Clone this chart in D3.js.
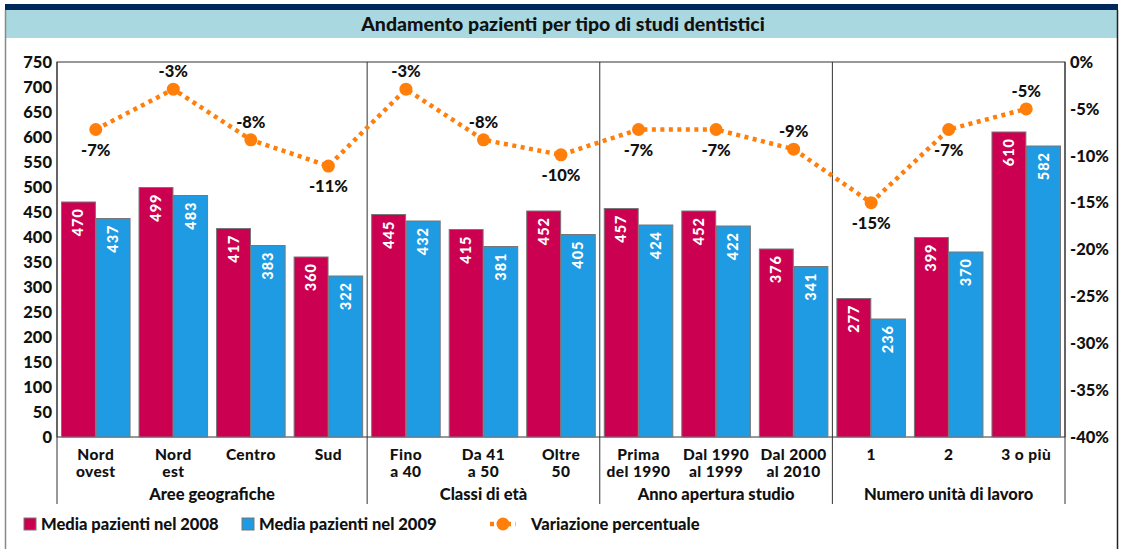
<!DOCTYPE html>
<html>
<head>
<meta charset="utf-8">
<script src="https://cdn.jsdelivr.net/npm/d3@7/dist/d3.min.js"></script>
<style>
  body { margin: 0; background: #fff; }
  text { font-family: Lato, "Open Sans", sans-serif; font-weight: 900; }
</style>
</head>
<body>
<svg width="1123" height="549"></svg>
<script>
const categories = [
  ["Nord", "ovest"], ["Nord", "est"], ["Centro"], ["Sud"],
  ["Fino", "a 40"], ["Da 41", "a 50"], ["Oltre", "50"],
  ["Prima", "del 1990"], ["Dal 1990", "al 1999"], ["Dal 2000", "al 2010"],
  ["1"], ["2"], ["3 o più"]
];
const groupNames = ["Aree geografiche", "Classi di età", "Anno apertura studio", "Numero unità di lavoro"];
const groupSizes = [4, 3, 3, 3];
const pazienti2008 = [470, 499, 417, 360, 445, 415, 452, 457, 452, 376, 277, 399, 610];
const pazienti2009 = [437, 483, 383, 322, 432, 381, 405, 424, 422, 341, 236, 370, 582];
const variazione = [-7.2, -2.9, -8.3, -11.1, -2.9, -8.3, -9.9, -7.2, -7.2, -9.3, -15, -7.2, -5];
const labelSide = ["b", "a", "a", "b", "a", "a", "b", "b", "b", "a", "b", "b", "a"];
const leftTicks = d3.range(0, 751, 50);
const rightTicks = d3.range(0, -41, -5);
const seriesNames = ["Media pazienti nel 2008", "Media pazienti nel 2009", "Variazione percentuale"];

const red = "#cc0050", blue = "#1e9be3", orange = "#ff7f0a";
const fs = "16.5px";

let svg = d3.select("svg");

// frame + title band
svg.append("rect").attr("x", 5).attr("y", 10).attr("width", 1113).attr("height", 28).attr("fill", "#a9d8e0");
svg.append("rect").attr("x", 5).attr("y", 4).attr("width", 1113).attr("height", 6).attr("fill", "#00295b");
svg.append("line").attr("x1", 5.5).attr("x2", 5.5).attr("y1", 10).attr("y2", 549).attr("stroke", "#888").attr("stroke-width", 1.5);
svg.append("line").attr("x1", 1117.5).attr("x2", 1117.5).attr("y1", 10).attr("y2", 549).attr("stroke", "#222").attr("stroke-width", 1.5);
svg.append("text")
  .attr("x", 563).attr("y", 31)
  .attr("text-anchor", "middle")
  .attr("font-size", "19.5px")
  .attr("fill", "#111")
  .text("Andamento pazienti per tipo di studi dentistici");

const plotL = 57, plotT = 62, plotR = 1065, plotB = 437;

let x = d3.scaleBand().domain(d3.range(categories.length)).range([plotL, plotR]);
let y = d3.scaleLinear().domain([0, 750]).range([plotB, plotT]);
let y2 = d3.scaleLinear().domain([-40, 0]).range([plotB, plotT]);
let xs = d3.scaleBand().domain([0, 1]).range([0, x.bandwidth()]).paddingOuter(0.13).paddingInner(0.02);

// plot frame
svg.append("rect")
  .attr("x", plotL).attr("y", plotT).attr("width", plotR - plotL).attr("height", plotB - plotT)
  .attr("fill", "none").attr("stroke", "#333").attr("stroke-width", 1);

// axes
let yAxis = svg.append("g").attr("transform", `translate(${plotL},0)`)
  .call(d3.axisLeft(y).tickValues(leftTicks).tickSize(0).tickPadding(5));
yAxis.select(".domain").remove();
yAxis.selectAll("text").attr("font-size", fs).attr("fill", "#111")
  .style("font-family", "Lato, sans-serif").style("font-weight", "900");

let y2Axis = svg.append("g").attr("transform", `translate(${plotR},0)`)
  .call(d3.axisRight(y2).tickValues(rightTicks).tickFormat((d) => d + "%").tickSize(0).tickPadding(5));
y2Axis.select(".domain").remove();
y2Axis.selectAll("text").attr("font-size", fs).attr("fill", "#111")
  .style("font-family", "Lato, sans-serif").style("font-weight", "900");

// group separators
let bounds = [0];
groupSizes.forEach((n, i) => bounds.push(bounds[i] + n));
bounds.forEach((b) => {
  let bx = b < categories.length ? x(b) : plotR;
  svg.append("line")
    .attr("x1", bx).attr("x2", bx).attr("y1", plotT).attr("y2", 504)
    .attr("stroke", "#333").attr("stroke-width", 1);
});
groupNames.forEach((g, i) => {
  let x0 = x(bounds[i]);
  let x1 = bounds[i + 1] < categories.length ? x(bounds[i + 1]) : plotR;
  svg.append("text")
    .attr("x", (x0 + x1) / 2).attr("y", 500)
    .attr("text-anchor", "middle").attr("font-size", fs).attr("fill", "#111")
    .text(g);
});

// category labels
categories.forEach((lines, i) => {
  let t = svg.append("text")
    .attr("x", x(i) + x.bandwidth() / 2).attr("y", 460)
    .attr("text-anchor", "middle").attr("font-size", "15.5px")
    .attr("letter-spacing", "0.4px").attr("fill", "#111");
  lines.forEach((l, j) => {
    t.append("tspan").attr("x", x(i) + x.bandwidth() / 2).attr("dy", j ? 17 : 0).text(l);
  });
});

// bars
let series = [pazienti2008, pazienti2009];
let colors = [red, blue];
series.forEach((vals, s) => {
  let g = svg.append("g");
  g.selectAll("rect").data(vals).join("rect")
    .attr("x", (d, i) => x(i) + xs(s))
    .attr("y", (d) => y(d))
    .attr("width", xs.bandwidth())
    .attr("height", (d) => plotB - y(d))
    .attr("fill", colors[s])
    .attr("stroke", "#777")
    .attr("stroke-width", 1);
  g.selectAll("text").data(vals).join("text")
    .attr("transform", (d, i) => `translate(${x(i) + xs(s) + xs.bandwidth() / 2 + 5},${y(d) + 6}) rotate(-90)`)
    .attr("text-anchor", "end")
    .attr("font-size", "14.5px")
    .attr("fill", "#fff")
    .attr("letter-spacing", "1px")
    .text((d) => d);
});

// percentage line
let cx = (i) => x(i) + x.bandwidth() / 2;
let line = d3.line().x((d, i) => cx(i)).y((d) => y2(d));
svg.append("path")
  .attr("d", line(variazione))
  .attr("fill", "none")
  .attr("stroke", orange)
  .attr("stroke-width", 4.5)
  .attr("stroke-dasharray", "4,4.5");
svg.selectAll(".pt").data(variazione).join("circle")
  .attr("class", "pt")
  .attr("cx", (d, i) => cx(i)).attr("cy", (d) => y2(d)).attr("r", 6.5)
  .attr("fill", orange);
svg.selectAll(".pl").data(variazione).join("text")
  .attr("class", "pl")
  .attr("x", (d, i) => cx(i))
  .attr("y", (d, i) => y2(d) + (labelSide[i] === "a" ? -12 : 26))
  .attr("text-anchor", "middle").attr("font-size", fs).attr("fill", "#111")
  .text((d) => Math.round(d) + "%");

// legend
let ly = 524;
[[24, red], [242, blue]].forEach(([lx, c], i) => {
  svg.append("rect").attr("x", lx).attr("y", ly - 6).attr("width", 12).attr("height", 12)
    .attr("fill", c).attr("stroke", "#777").attr("stroke-width", 1);
  svg.append("text").attr("x", lx + 17).attr("y", ly + 6).attr("font-size", fs).attr("fill", "#111")
    .text(seriesNames[i]);
});
svg.append("line").attr("x1", 490).attr("x2", 516).attr("y1", ly).attr("y2", ly)
  .attr("stroke", orange).attr("stroke-width", 4.5).attr("stroke-dasharray", "4,4.5");
svg.append("circle").attr("cx", 503).attr("cy", ly).attr("r", 6.5).attr("fill", orange);
svg.append("text").attr("x", 531).attr("y", ly + 6).attr("font-size", fs).attr("fill", "#111")
  .text(seriesNames[2]);
</script>
</body>
</html>
